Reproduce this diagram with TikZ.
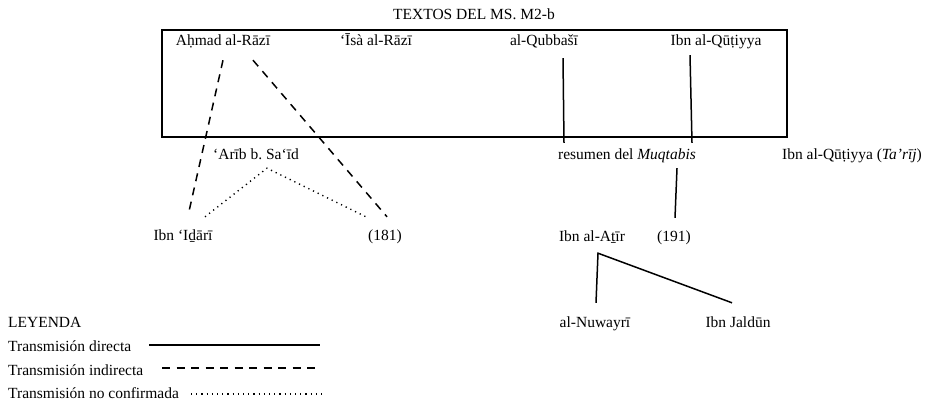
\documentclass[tikz,border=0pt]{standalone}
\usepackage{fontspec}
\setmainfont{Liberation Serif}
\usepackage{tikz}

\begin{document}
\begin{tikzpicture}[x=1pt, y=-1pt,
    txt/.style={inner sep=2pt, text height=11pt, text depth=3pt, font=\fontsize{15.5}{18}\selectfont},
    direct/.style={line width=1.5pt},
    indirect/.style={line width=1.5pt, dash pattern=on 8pt off 6.5pt},
    unsure/.style={line width=1.4pt, dash pattern=on 1.2pt off 4pt}]
  \useasboundingbox (0,0) rectangle (926,403);

  % Manuscript box
  \draw[line width=1.7pt] (162,30) rectangle (787,137);
  \node[txt, anchor=base] (title) at (474,20) {TEXTOS DEL MS. M2-b};

  % Texts inside the manuscript
  \node[txt, anchor=base] (ahmad) at (223,46) {Aḥmad al-Rāzī};
  \node[txt, anchor=base] (isa) at (376,46) {‘Īsà al-Rāzī};
  \node[txt, anchor=base] (qubbasi) at (544,46) {al-Qubbašī};
  \node[txt, anchor=base] (qutiyya) at (716,46) {Ibn al-Qūṭiyya};

  % Second level
  \node[txt, anchor=base] (arib) at (256,160) {‘Arīb b.\ Sa‘īd};
  \node[txt, anchor=base] (resumen) at (627,160) {resumen del \textit{Muqtabis}};
  \node[txt, anchor=base] (tarij) at (852,160) {Ibn al-Qūṭiyya (\textit{Ta’rīj})};

  % Third level
  \node[txt, anchor=base] (idari) at (183,241) {Ibn ‘Iḏārī};
  \node[txt, anchor=base] (n181) at (385,241) {(181)};
  \node[txt, anchor=base] (athir) at (592,242) {Ibn al-Aṯīr};
  \node[txt, anchor=base] (n191) at (674,242) {(191)};

  % Fourth level
  \node[txt, anchor=base] (nuwayri) at (595,327) {al-Nuwayrī};
  \node[txt, anchor=base] (jaldun) at (738,327) {Ibn Jaldūn};

  % Indirect transmission
  \draw[indirect] ([yshift=-9pt]ahmad.south) -- ([xshift=5pt, yshift=12pt]idari.north);
  \draw[indirect] ([xshift=30pt, yshift=-9pt]ahmad.south) -- ([xshift=2pt, yshift=11pt]n181.north);

  % Unconfirmed transmission
  \draw[unsure] ([xshift=22pt, yshift=11pt]idari.north) -- ([xshift=11pt, yshift=-3pt]arib.south)
    -- ([xshift=-17pt, yshift=10pt]n181.north);

  % Direct transmission
  \draw[direct] ([xshift=19pt, yshift=-7pt]qubbasi.south) -- ([xshift=-63pt, yshift=4pt]resumen.north);
  \draw[direct] ([xshift=-26pt, yshift=-4pt]qutiyya.south) -- ([xshift=65pt, yshift=4pt]resumen.north);
  \draw[direct] ([xshift=50pt, yshift=-3pt]resumen.south) -- ([xshift=1pt, yshift=11pt]n191.north);
  \draw[direct] ([xshift=1pt, yshift=11pt]nuwayri.north) -- ([xshift=6pt, yshift=-6pt]athir.south)
    -- ([xshift=-6pt, yshift=11pt]jaldun.north);

  % Legend
  \node[txt, anchor=base west] (leyenda) at (6,327) {LEYENDA};
  \node[txt, anchor=base west] (legdir) at (6,351) {Transmisión directa};
  \node[txt, anchor=base west] (legind) at (6,375) {Transmisión indirecta};
  \node[txt, anchor=base west] (legunc) at (6,398) {Transmisión no confirmada};
  \coordinate (dirend) at (320,345);
  \coordinate (indend) at (320,368);
  \coordinate (uncend) at (322,394);
  \draw[direct] (149,345) -- (dirend);
  \draw[indirect] (162,368) -- (indend);
  \draw[unsure] (191,394) -- (uncend);

\end{tikzpicture}
\end{document}
